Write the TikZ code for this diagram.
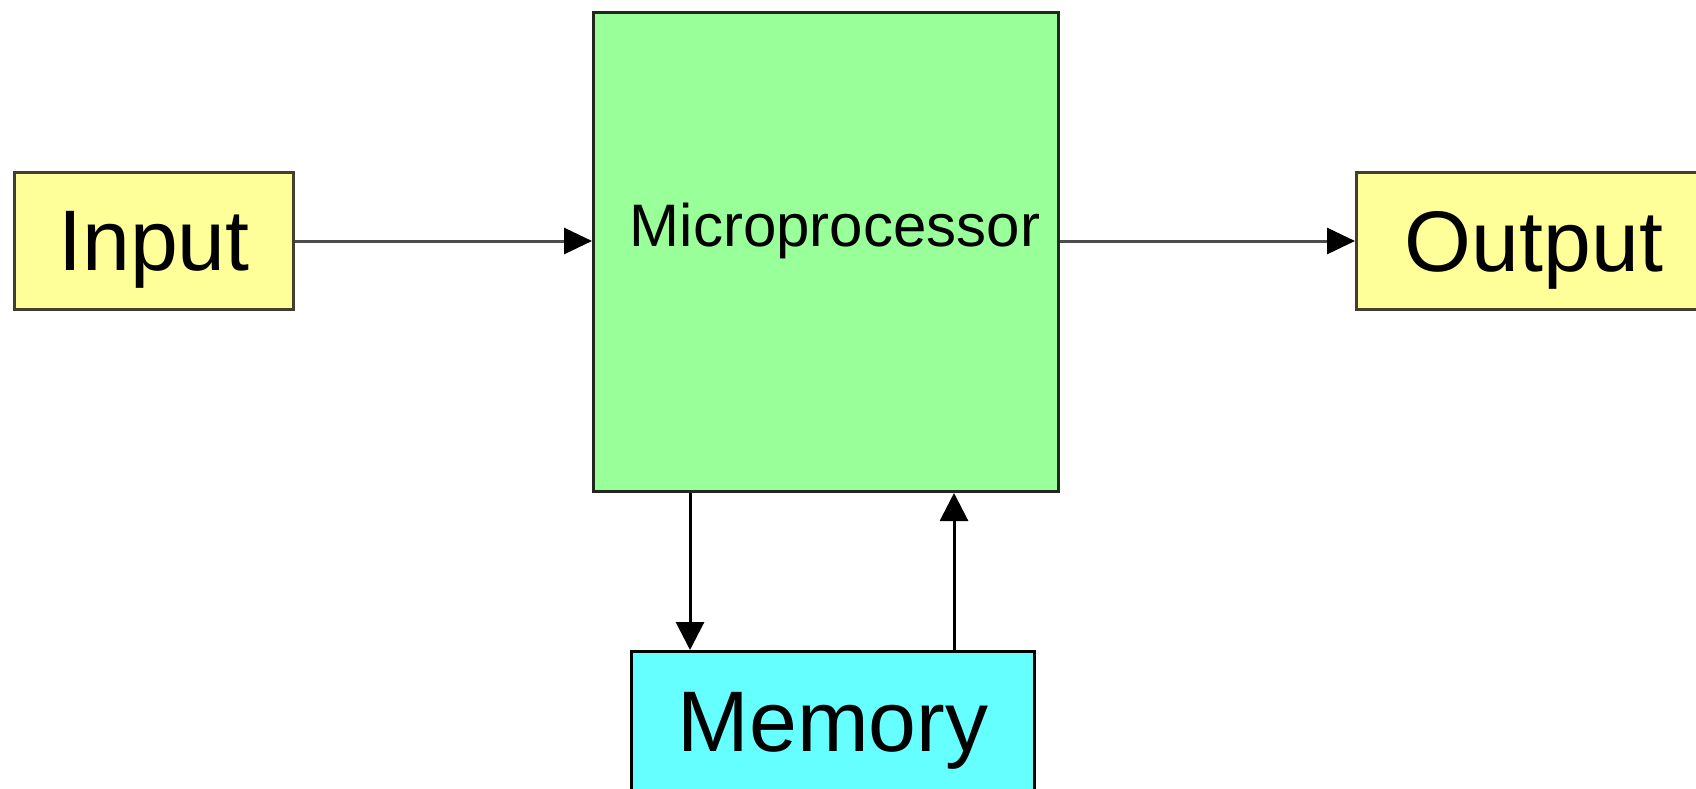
\documentclass[tikz,border=0pt]{standalone}
\usepackage{fontspec}
\setmainfont{Liberation Sans}
\usetikzlibrary{arrows.meta}
\definecolor{inyellow}{HTML}{FFFF99}
\definecolor{cpugreen}{HTML}{99FF99}
\definecolor{memcyan}{HTML}{66FFFF}
\definecolor{yborder}{HTML}{403F30}
\definecolor{gborder}{HTML}{202820}
\begin{document}
\begin{tikzpicture}[x=0.5pt,y=-0.5pt,
  box/.style={draw=#1, line width=1.5pt, inner sep=0pt, anchor=north west,
    text depth=0pt, font=\fontsize{43}{50}\selectfont},
  harr/.style={draw=black!70, line width=1.5pt, -{Triangle[length=14pt,width=13pt,color=black]}},
  varr/.style={draw=black, line width=1.5pt, -{Triangle[length=14pt,width=14pt]}}]
\useasboundingbox (0,0) rectangle (1696,788);
\clip (0,0) rectangle (1696,788);
\node[box=yborder, fill=inyellow, minimum width=139.5pt, minimum height=68.5pt] (in) at (13,171) {Input};
\node[box=gborder, fill=cpugreen, minimum width=232.5pt, minimum height=239.5pt] (mp) at (592,11) {};
\node[font=\fontsize{30}{36}\selectfont, inner sep=0pt, text depth=0pt] (mptext) at (835,225) {Microprocessor};
\node[box=yborder, fill=inyellow, minimum width=177.5pt, minimum height=68.5pt] (out) at (1355,171) {Output};
\node[box=black, fill=memcyan, minimum width=201.5pt, minimum height=70pt] (mem) at (630,650) {Memory};
\coordinate (dx) at (690,0);
\coordinate (ux) at (954,0);
\draw[harr] (in.east) -- (mp.west |- in.east);
\draw[harr] (mp.east |- out.west) -- (out.west);
\draw[varr] (mp.south -| dx) -- (mem.north -| dx);
\draw[varr] (mem.north -| ux) -- (mp.south -| ux);
\end{tikzpicture}
\end{document}
